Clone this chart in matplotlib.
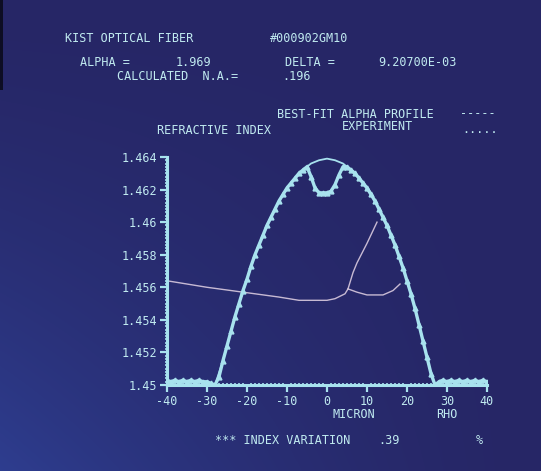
import numpy as np
import matplotlib
matplotlib.use("Agg")
from matplotlib import pyplot as plt
from matplotlib.ticker import MultipleLocator

# experiment: refractive index, one point per micron
rho_exp = list(range(-40, 41))
n_exp = [1.4503, 1.4502, 1.4503, 1.4502, 1.4503, 1.4502, 1.4503, 1.4502, 1.4503, 1.4502, 1.4502, 1.4501,
         1.4500, 1.4505, 1.4515, 1.4524, 1.4533, 1.4542, 1.4550, 1.4558, 1.4565, 1.4573, 1.4580, 1.4586,
         1.4592, 1.4598, 1.4603, 1.4608, 1.4613, 1.4617, 1.4621, 1.4624, 1.4627, 1.4630, 1.4632, 1.4634,
         1.4628, 1.4621, 1.4618, 1.4618, 1.4618, 1.4619, 1.4623, 1.4629, 1.4634, 1.4634, 1.4632, 1.4630,
         1.4627, 1.4624, 1.4621, 1.4617, 1.4613, 1.4608, 1.4603, 1.4598, 1.4592, 1.4586, 1.4579, 1.4572,
         1.4564, 1.4556, 1.4547, 1.4537, 1.4527, 1.4517, 1.4507, 1.4500,
         1.4502, 1.4503, 1.4502, 1.4503, 1.4502, 1.4503, 1.4502, 1.4503, 1.4502, 1.4503, 1.4502, 1.4503, 1.4502]

# best-fit alpha profile
rho_fit = [-28, -26, -24, -22, -20, -18, -16, -14, -12, -10, -8, -6, -4, -2, 0,
           2, 4, 6, 8, 10, 12, 14, 16, 18, 20, 22, 24, 26, 27]
n_fit = [1.4500, 1.4515, 1.4533, 1.4550, 1.4565, 1.4580, 1.4592, 1.4603, 1.4613, 1.4621, 1.4627, 1.4632,
         1.4636, 1.4638, 1.4639, 1.4638, 1.4636, 1.4632, 1.4627, 1.4621, 1.4613, 1.4603, 1.4592, 1.4579,
         1.4564, 1.4547, 1.4527, 1.4507, 1.4500]

# stray thin trace visible on the screen photo
stray_x = [-40, -30, -21, -12, -7, 0, 2, 4.5, 5.25, 6.5, 7.5, 10, 12.5]
stray_y = [1.4564, 1.4560, 1.4557, 1.4554, 1.4552, 1.4552, 1.4553, 1.4556, 1.4559, 1.4569, 1.4575, 1.4587, 1.4600]
stray2_x = [5.25, 7.5, 10, 14, 16.5, 18.25]
stray2_y = [1.4559, 1.4557, 1.45553, 1.45553, 1.4558, 1.4562]

x_ticks = [-40, -30, -20, -10, 0, 10, 20, 30, 40]
y_ticks = [1.450, 1.452, 1.454, 1.456, 1.458, 1.460, 1.462, 1.464]
y_labels = ["1.45", "1.452", "1.454", "1.456", "1.458", "1.46", "1.462", "1.464"]

fg = "#c0eaf0"
line_col = "#a8e2ee"
mono = "DejaVu Sans Mono"

fig = plt.figure(figsize=(5.41, 4.71), dpi=100)

# CRT photo background, dark navy, a bit brighter blue toward lower left
bg = fig.add_axes([0, 0, 1, 1], zorder=-5)
gx, gy = np.meshgrid(np.linspace(0, 1, 541), np.linspace(0, 1, 471))
w = np.clip((1 - gx) * gy, 0, 1) ** 1.5
r = 0.15 + 0.03 * w
g = 0.15 + 0.09 * w
b = 0.40 + 0.16 * w
img = np.dstack([r, g, b]).clip(0, 1)
img[:90, :3] *= 0.35
bg.imshow(img, aspect="auto", extent=[0, 1, 0, 1], origin="upper")
bg.axis("off")

ax = fig.add_axes([167 / 541, 1 - 385 / 471, 320 / 541, 228 / 471])
ax.set_facecolor("none")
ax.plot(stray_x, stray_y, color="#e4d4e6", lw=1.0, alpha=0.85)
ax.plot(stray2_x, stray2_y, color="#e4d4e6", lw=1.0, alpha=0.85)
ax.plot(rho_fit, n_fit, color=line_col, lw=1.3)
ax.plot(rho_exp, n_exp, color=line_col, lw=2.4, marker="^", ms=3.5, mec=line_col, mfc=line_col)

ax.set_xlim(-40, 40)
ax.set_ylim(1.450, 1.464)
ax.set_xticks(x_ticks)
ax.set_xticklabels([str(v) for v in x_ticks])
ax.set_yticks(y_ticks)
ax.set_yticklabels(y_labels)
ax.xaxis.set_minor_locator(MultipleLocator(1))
ax.yaxis.set_minor_locator(MultipleLocator(0.0002))
for sp in ["top", "right"]:
    ax.spines[sp].set_visible(False)
for sp in ["left", "bottom"]:
    ax.spines[sp].set_color(line_col)
    ax.spines[sp].set_linewidth(2.2)
ax.tick_params(axis="both", which="major", colors=line_col, width=1.6, length=5, direction="out",
               labelcolor=fg, labelsize=8.5, pad=2)
ax.tick_params(axis="both", which="minor", colors=line_col, width=1.2, length=3, direction="inout")
for lab in ax.get_xticklabels() + ax.get_yticklabels():
    lab.set_fontfamily(mono)

def put(px, py, s, ha="left"):
    fig.text(px / 541, 1 - py / 471, s, color=fg, fontsize=8.5, family=mono, ha=ha, va="center")

put(65, 39, "KIST OPTICAL FIBER")
put(270, 39, "#000902GM10")
put(80, 62, "ALPHA =")
put(176, 62, "1.969")
put(285, 62, "DELTA =")
put(378, 62, "9.20700E-03")
put(117, 76, "CALCULATED  N.A.=")
put(282, 77, ".196")
put(277, 114, "BEST-FIT ALPHA PROFILE")
put(460, 114, "-----")
put(342, 126, "EXPERIMENT")
put(462, 130, ".....")
put(157, 131, "REFRACTIVE INDEX")
put(354, 415, "MICRON", ha="center")
put(447, 415, "RHO", ha="center")
put(215, 440, "*** INDEX VARIATION")
put(378, 440, ".39")
put(476, 440, "%")

fig.savefig("out.png", dpi=100, facecolor=fig.get_facecolor())
